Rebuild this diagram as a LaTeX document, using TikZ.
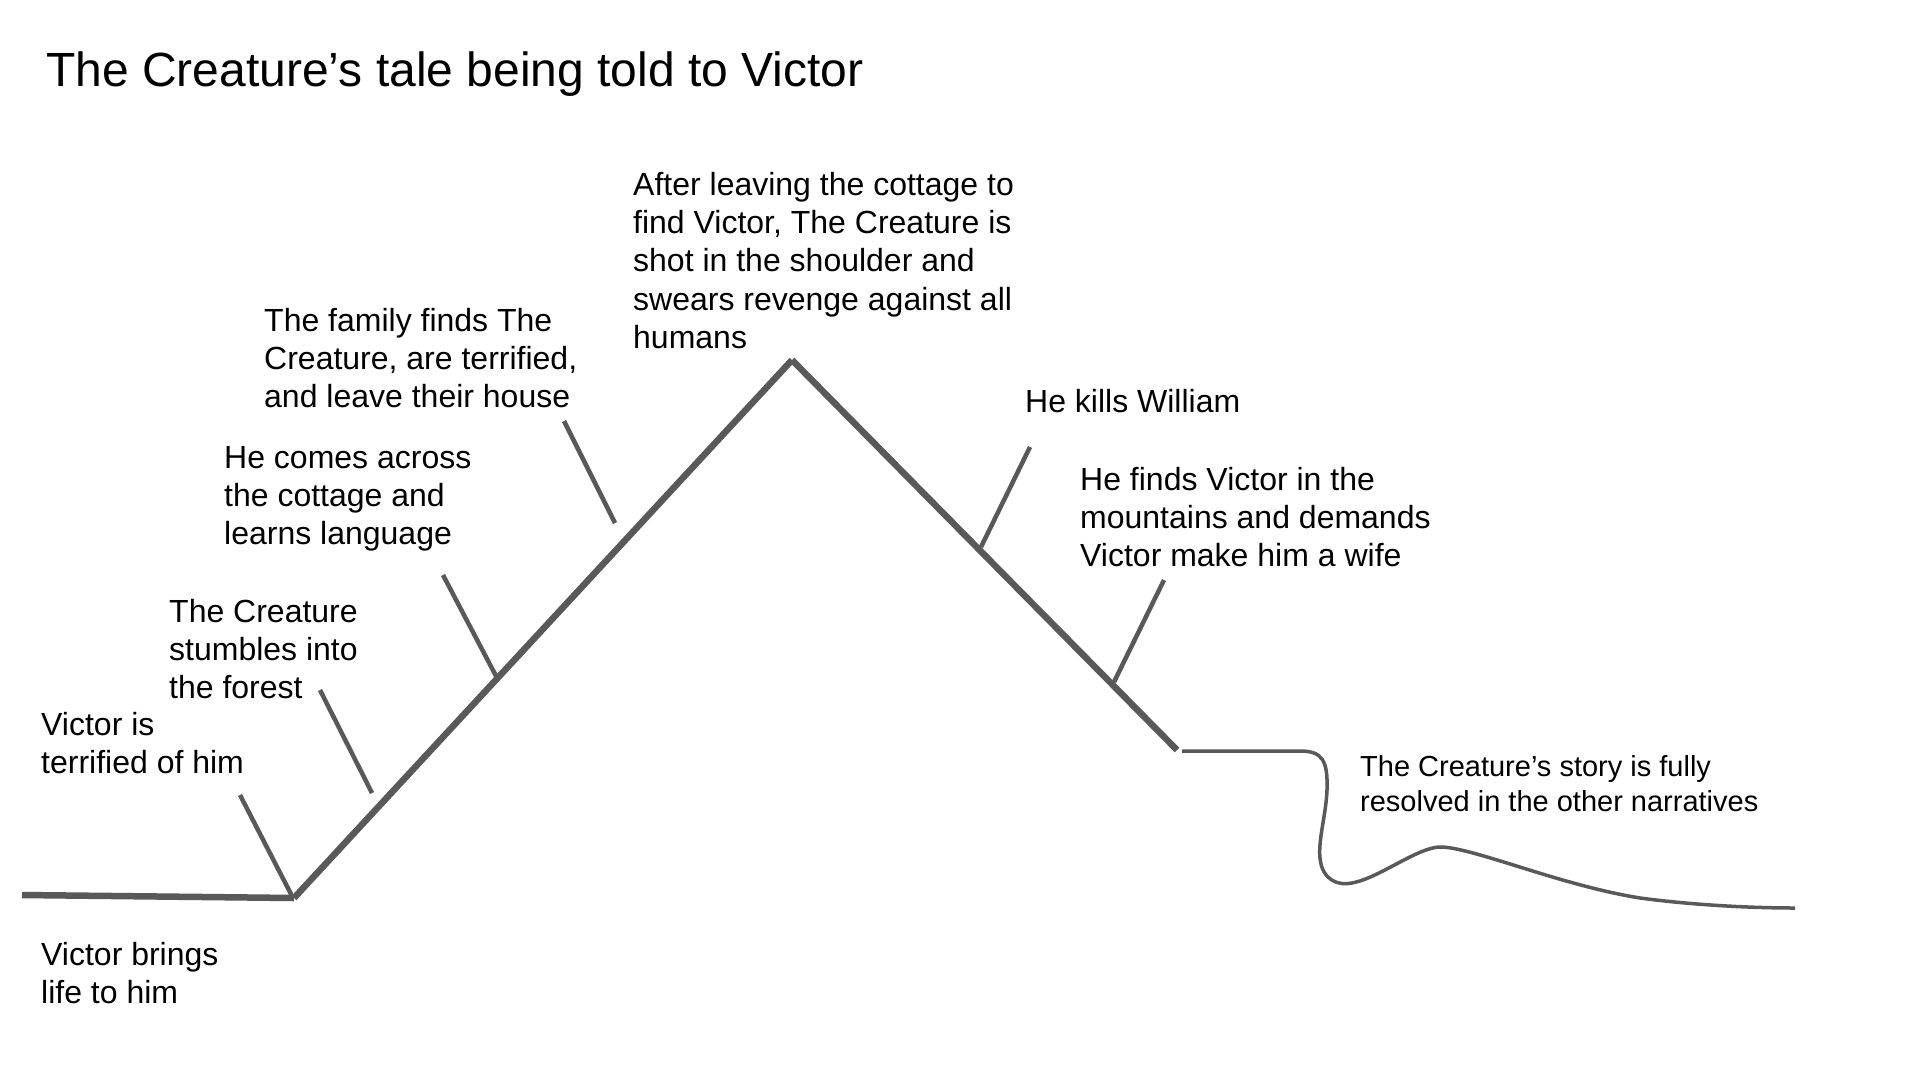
\documentclass[tikz,border=0pt]{standalone}
\usepackage{fontspec}
\setmainfont{Liberation Sans}
\definecolor{plotgray}{HTML}{595959}
\begin{document}
\begin{tikzpicture}[x=1pt,y=-1pt,
  lbl/.style={anchor=base west, inner sep=0pt, align=left, text=black,
    font=\fontsize{32}{38.4}\selectfont},
  smalllbl/.style={anchor=base west, inner sep=0pt, align=left, text=black,
    font=\fontsize{29}{35.5}\selectfont},
  ttl/.style={anchor=base west, inner sep=0pt, text=black,
    font=\fontsize{48}{56}\selectfont},
  mainline/.style={draw=plotgray, line width=6.5pt, line cap=butt},
  tickline/.style={draw=plotgray, line width=4.5pt, line cap=butt},
  tailline/.style={draw=plotgray, line width=3.5pt, line cap=butt}]
\useasboundingbox[fill=white] (0,0) rectangle (1920,1080);

% title
\node[ttl] (title) at (46,86) {The Creature’s tale being told to Victor};

% key points of the plot line
\coordinate (start) at (22,895);
\coordinate (birth) at (294,898);
\coordinate (peak) at (792,360);
\coordinate (fallend) at (1177,750);
\coordinate (tailstart) at (1182,751);

% main plot line
\draw[mainline] (start) -- (birth);
\draw[mainline] (birth) -- (peak);
\draw[mainline] (peak) -- (fallend);

% tail
\draw[tailline] (tailstart) -- (1300,751)
  .. controls (1322,751) and (1328,760) .. (1327,790)
  .. controls (1326,815) and (1318,840) .. (1320,858)
  .. controls (1322,880) and (1338,886) .. (1352,883)
  .. controls (1380,878) and (1420,845) .. (1443,847)
  .. controls (1480,850) and (1560,885) .. (1640,898)
  .. controls (1700,906) and (1760,908) .. (1795,908);

% tick marks
\coordinate (ta1) at (240,795); \coordinate (ta2) at (292,896);
\coordinate (tb1) at (320,690); \coordinate (tb2) at (372,793);
\coordinate (tc1) at (443,575); \coordinate (tc2) at (496,676);
\coordinate (td1) at (564,421); \coordinate (td2) at (615,523);
\coordinate (te1) at (1030,447); \coordinate (te2) at (981,547);
\coordinate (tf1) at (1164,580); \coordinate (tf2) at (1114,682);
\draw[tickline] (ta1) -- (ta2);
\draw[tickline] (tb1) -- (tb2);
\draw[tickline] (tc1) -- (tc2);
\draw[tickline] (td1) -- (td2);
\draw[tickline] (te1) -- (te2);
\draw[tickline] (tf1) -- (tf2);

% labels (anchored at the baseline of their last line)
\node[lbl] (l1) at (633,348.6) {After leaving the cottage to\\find Victor, The Creature is\\shot in the shoulder and\\swears revenge against all\\humans};
\node[lbl] (l2) at (264,407.8) {The family finds The\\Creature, are terrified,\\and leave their house};
\node[lbl] (l3) at (224,544.8) {He comes across\\the cottage and\\learns language};
\node[lbl] (l4) at (169,698.8) {The Creature\\stumbles into\\the forest};
\node[lbl] (l5) at (41,773.4) {Victor is\\terrified of him};
\node[lbl] (l6) at (41,1003.4) {Victor brings\\life to him};
\node[lbl] (l7) at (1025,412) {He kills William};
\node[lbl] (l8) at (1080,566.8) {He finds Victor in the\\mountains and demands\\Victor make him a wife};
\node[smalllbl] (l9) at (1360,811.5) {The Creature’s story is fully\\resolved in the other narratives};
\end{tikzpicture}
\end{document}
